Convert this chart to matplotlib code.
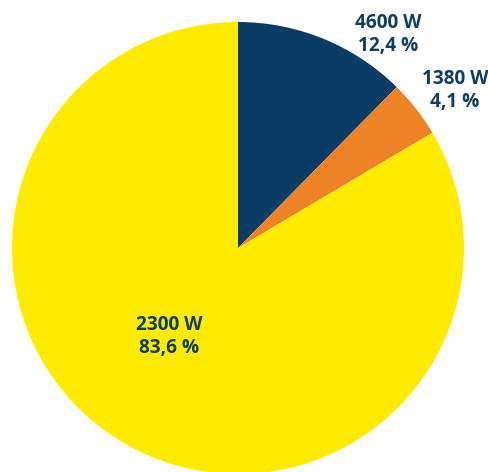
import matplotlib.pyplot as plt

# Anteile (Prozent) und Leistungen je Segment, im Uhrzeigersinn ab 12 Uhr
leistung = ["4600 W", "1380 W", "2300 W"]
anteil = [12.4, 4.1, 83.6]
farben = ["#0a3c66", "#ee8226", "#ffeb00"]
textfarbe = "#0e3d66"

# Beschriftungspositionen in Pixeln (x, y von oben)
pos = [(388, 34), (455, 90), (169, 336)]

W, H = 489, 472
fig = plt.figure(figsize=(W / 100, H / 100), dpi=100)
ax = fig.add_axes([0, 0, 1, 1])
ax.set_xlim(0, W)
ax.set_ylim(0, H)
ax.set_aspect("equal")
ax.axis("off")

ax.pie(anteil, colors=farben, startangle=90, counterclock=False,
       center=(238, H - 248), radius=226, normalize=True,
       wedgeprops=dict(linewidth=0))
ax.set_xlim(0, W)
ax.set_ylim(0, H)

for lab, pct, (x, y) in zip(leistung, anteil, pos):
    txt = lab + "\n" + f"{pct:.1f}".replace(".", ",") + " %"
    ax.text(x, H - y, txt, ha="center", va="center", fontsize=13.7,
            fontweight="bold", family="Open Sans", color=textfarbe,
            linespacing=1.2)

fig.savefig("out.png", dpi=100)
